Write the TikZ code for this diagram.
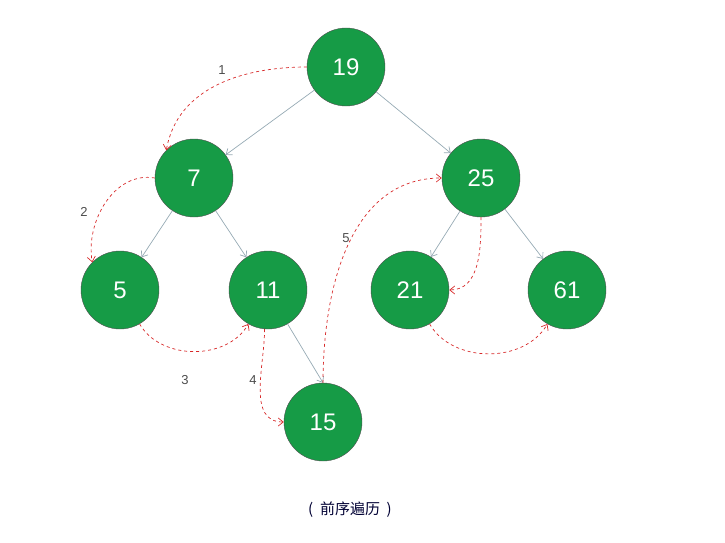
\documentclass[tikz,border=0pt]{standalone}
\usepackage{fontspec}
\setmainfont{Liberation Sans}
\newfontfamily\cjk{Noto Sans CJK SC}
\usetikzlibrary{arrows.meta}
\definecolor{ng}{RGB}{22,155,70}
\definecolor{eg}{RGB}{150,170,180}
\definecolor{rd}{RGB}{215,40,40}
\begin{document}
\begin{tikzpicture}[x=1pt,y=-1pt,
 nd/.style={circle,draw=black!70,fill=ng,minimum size=78pt,inner sep=0pt,text=white,font=\fontsize{24}{24}\selectfont},
 ed/.style={draw=eg,line width=0.7pt,-{Straight Barb[length=5pt,width=8pt]}},
 rt/.style={draw=rd,dashed,line width=0.7pt,-{Straight Barb[length=5pt,width=8pt]}},
 lb/.style={text=black!70,font=\fontsize{13}{13}\selectfont}]
\useasboundingbox (0,0) rectangle (725,543);
\node[nd] (n19) at (346,67) {19};
\node[nd] (n7) at (194,178) {7};
\node[nd] (n25) at (481,178) {25};
\node[nd] (n5) at (120,290) {5};
\node[nd] (n11) at (268,290) {11};
\node[nd] (n21) at (410,290) {21};
\node[nd] (n61) at (567,290) {61};
\node[nd] (n15) at (323,422) {15};
\draw[ed] (n19) -- (n7);
\draw[ed] (n19) -- (n25);
\draw[ed] (n7) -- (n5);
\draw[ed] (n7) -- (n11);
\draw[ed] (n11.-60) -- (n15.90);
\draw[ed] (n25) -- (n21);
\draw[ed] (n25) -- (n61);
\draw[rt] (n19.west) to[out=180,in=80] (n7.135);
\draw[rt] (n7.west) to[out=170,in=100] (n5.135);
\draw[rt] (n5.-60) to[out=-60,in=-120] (n11.-120);
\draw[rt] (n11.-95) to[out=-90,in=180] (n15.west);
\draw[rt] (n15.90) to[out=90,in=180] (n25.west);
\draw[rt] (n25.-90) to[out=-90,in=0] (n21.east);
\draw[rt] (n21.-60) to[out=-60,in=-120] (n61.-120);
\node[lb] (l1) at (222,70) {1};
\node[lb] (l2) at (84,212) {2};
\node[lb] (l3) at (185,380) {3};
\node[lb] (l4) at (253,380) {4};
\node[lb] (l5) at (346,238) {5};
\node[font=\cjk\fontsize{15}{15}\selectfont,text=black!80!blue] (cap) at (350,510) {(\ \ 前序遍历\ \ )};
\end{tikzpicture}
\end{document}
